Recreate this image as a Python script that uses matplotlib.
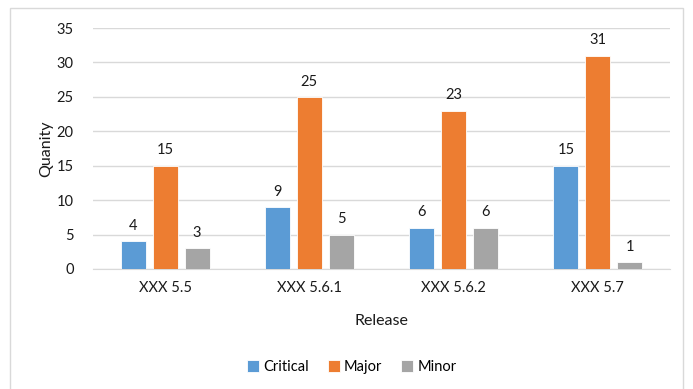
import numpy as np
import matplotlib.pyplot as plt
from matplotlib.patches import Rectangle

releases = ["XXX 5.5", "XXX 5.6.1", "XXX 5.6.2", "XXX 5.7"]
critical = [4, 9, 6, 15]
major = [15, 25, 23, 31]
minor = [3, 5, 6, 1]

plt.rcParams["font.family"] = ["Lato", "DejaVu Sans"]

fig = plt.figure(figsize=(6.93, 3.89), dpi=100)
ax = fig.add_axes([93 / 693, 1 - 269 / 389, 577 / 693, 241 / 389])

# chart frame
fig.patches.append(Rectangle((10 / 693, -0.05), 673 / 693, 1.05 - 8 / 389,
                             transform=fig.transFigure, fill=False,
                             edgecolor="#D9D9D9", linewidth=1))

x = np.arange(len(releases))
w = 0.174
step = 0.222
series = [("Critical", critical, "#5B9BD5"),
          ("Major", major, "#ED7D31"),
          ("Minor", minor, "#A5A5A5")]

for i, (name, vals, color) in enumerate(series):
    bars = ax.bar(x + (i - 1) * step, vals, w, color=color, label=name,
                  edgecolor="white", linewidth=0.6, zorder=3)
    ax.bar_label(bars, padding=6, fontsize=10.5, color="#1a1a1a")

ax.set_xlim(-0.5, 3.5)
ax.set_ylim(0, 35)
ax.set_yticks(range(0, 36, 5))
ax.set_xticks(x)
ax.set_xticklabels(releases)
ax.tick_params(length=0, labelsize=10.5, colors="#1a1a1a")
ax.tick_params(axis="x", pad=9)
ax.tick_params(axis="y", pad=14)
ax.grid(axis="y", color="#D9D9D9", linewidth=1, zorder=0)
for s in ["top", "right", "left"]:
    ax.spines[s].set_visible(False)
ax.spines["bottom"].set_color("#D9D9D9")

ax.set_ylabel("Quanity", fontsize=11.5, color="#1a1a1a", labelpad=2)
ax.set_xlabel("Release", fontsize=11.5, color="#1a1a1a", labelpad=13)

fig.legend(loc="center", bbox_to_anchor=(352 / 693, 1 - 367 / 389), ncol=3,
           frameon=False, fontsize=10.5, handlelength=0.8, handleheight=0.8,
           handletextpad=0.3, columnspacing=1.3)

fig.savefig("out.png", dpi=100)
